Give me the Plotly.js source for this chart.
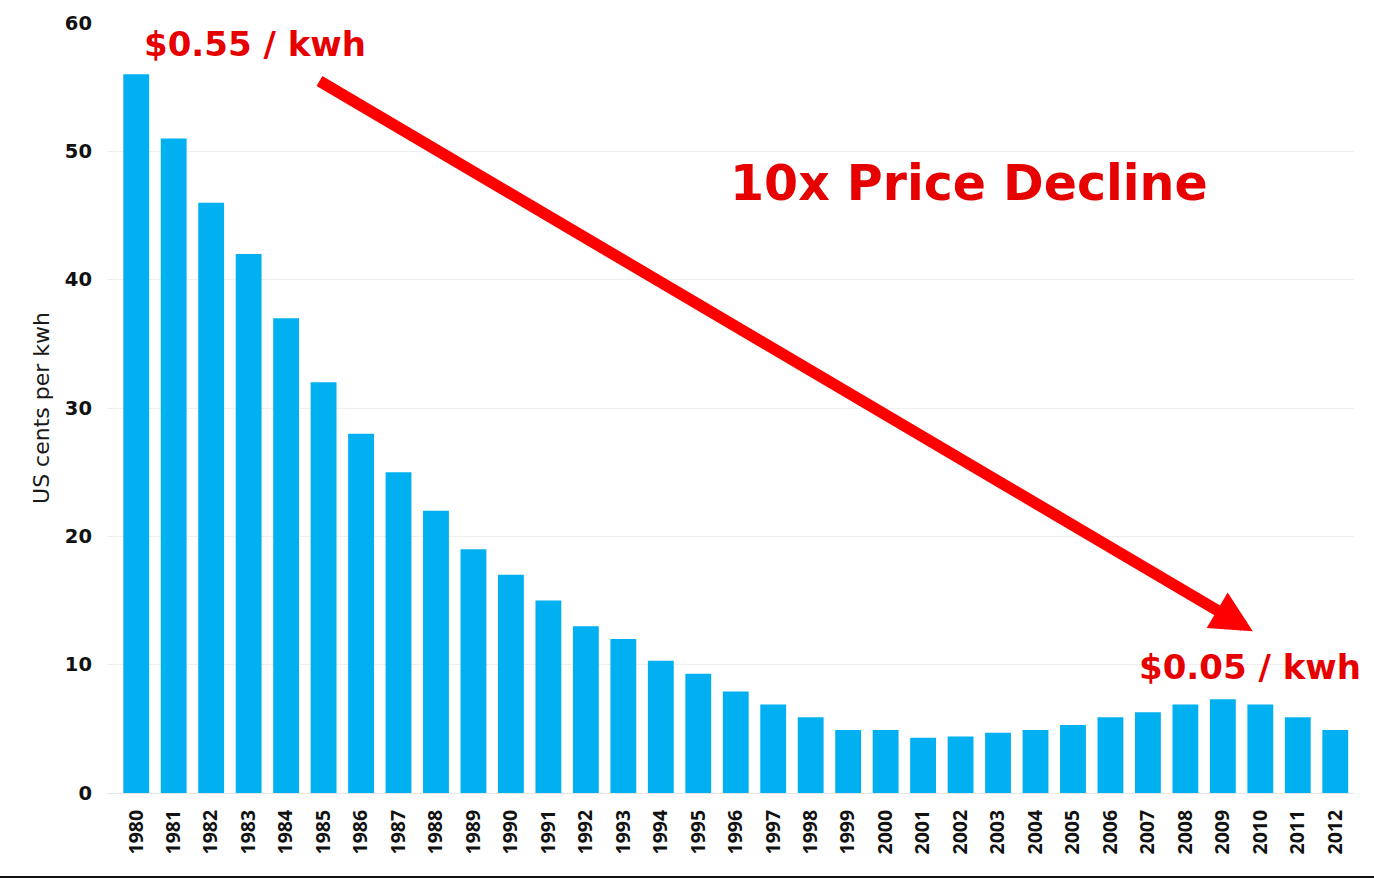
<!DOCTYPE html>
<html>
<head>
<meta charset="utf-8">
<script src="https://cdn.plot.ly/plotly-3.0.1.min.js"></script>
<style>
  html, body { margin: 0; padding: 0; background: #ffffff; }
  #chart { width: 1374px; height: 879px; }
</style>
</head>
<body>
<div id="chart"></div>
<script>
// ---- Data ----
const years = [1980, 1981, 1982, 1983, 1984, 1985, 1986, 1987, 1988, 1989, 1990,
               1991, 1992, 1993, 1994, 1995, 1996, 1997, 1998, 1999, 2000, 2001,
               2002, 2003, 2004, 2005, 2006, 2007, 2008, 2009, 2010, 2011, 2012];
const yearLabels = years.map(String);
const centsPerKwh = [56, 51, 46, 42, 37, 32, 28, 25, 22, 19, 17,
                     15, 13, 12, 10.3, 9.3, 7.9, 6.9, 5.9, 4.9, 4.9, 4.3,
                     4.4, 4.7, 4.9, 5.3, 5.9, 6.3, 6.9, 7.3, 6.9, 5.9, 4.9];
const yTicks = [0, 10, 20, 30, 40, 50, 60];
const yAxisTitle = "US cents per kwh";
const startLabel = "$0.55 / kwh";
const endLabel = "$0.05 / kwh";
const headline = "10x Price Decline";

const RED_TEXT = "#e60000";
const RED_ARROW = "#ff0000";
const BLUE = "#00b0f0";

const trace = {
  type: "bar",
  x: years,
  y: centsPerKwh,
  marker: { color: BLUE, line: { width: 0 } },
  hoverinfo: "x+y"
};

const layout = {
  width: 1374,
  height: 879,
  margin: { l: 107, r: 20, t: 23, b: 86 },
  paper_bgcolor: "#ffffff",
  plot_bgcolor: "#ffffff",
  showlegend: false,
  bargap: 0.31,
  xaxis: {
    type: "linear",
    range: [1979.22, 2012.5],
    tickmode: "array",
    tickvals: years,
    ticktext: yearLabels,
    tickangle: -90,
    ticks: "",
    ticklabelstandoff: 12,
    showgrid: false,
    zeroline: false,
    showline: false,
    tickfont: { family: "'Noto Sans', 'DejaVu Sans', sans-serif", size: 19.5, color: "#111111", weight: "bold" }
  },
  yaxis: {
    range: [0, 60],
    tickmode: "array",
    tickvals: yTicks,
    ticks: "",
    ticklabelstandoff: 14,
    showgrid: true,
    gridcolor: "#efefef",
    gridwidth: 1,
    zeroline: true,
    zerolinecolor: "#e6e6e6",
    zerolinewidth: 1,
    showline: false,
    tickfont: { family: "'DejaVu Sans', sans-serif", size: 19.5, color: "#111111", weight: "bold" },
    title: {
      text: yAxisTitle,
      standoff: 9,
      font: { family: "'DejaVu Sans', sans-serif", size: 22, color: "#1a1a1a" }
    }
  },
  annotations: [
    {
      xref: "x", yref: "y",
      x: 2009.8, y: 12.6,
      axref: "x", ayref: "y",
      ax: 1984.85, ay: 55.55,
      text: "",
      showarrow: true,
      arrowhead: 2,
      arrowsize: 0.72,
      arrowwidth: 11.5,
      arrowcolor: RED_ARROW,
      standoff: 0
    },
    {
      xref: "x", yref: "y",
      x: 1983.17, y: 58.35,
      text: startLabel,
      showarrow: false,
      xanchor: "center", yanchor: "middle",
      font: { family: "'DejaVu Sans', sans-serif", size: 34, color: RED_TEXT, weight: "bold" }
    },
    {
      xref: "x", yref: "y",
      x: 2002.23, y: 47.52,
      text: headline,
      showarrow: false,
      xanchor: "center", yanchor: "middle",
      font: { family: "'DejaVu Sans', sans-serif", size: 49, color: RED_TEXT, weight: "bold" }
    },
    {
      xref: "x", yref: "y",
      x: 2009.72, y: 9.79,
      text: endLabel,
      showarrow: false,
      xanchor: "center", yanchor: "middle",
      font: { family: "'DejaVu Sans', sans-serif", size: 34, color: RED_TEXT, weight: "bold" }
    }
  ],
  shapes: [
    {
      type: "line",
      xref: "paper", yref: "paper",
      x0: -0.09, x1: 1.02,
      y0: -0.109, y1: -0.109,
      line: { color: "#111111", width: 2 }
    }
  ]
};

Plotly.newPlot("chart", [trace], layout, { displayModeBar: false, staticPlot: true });
</script>
</body>
</html>
